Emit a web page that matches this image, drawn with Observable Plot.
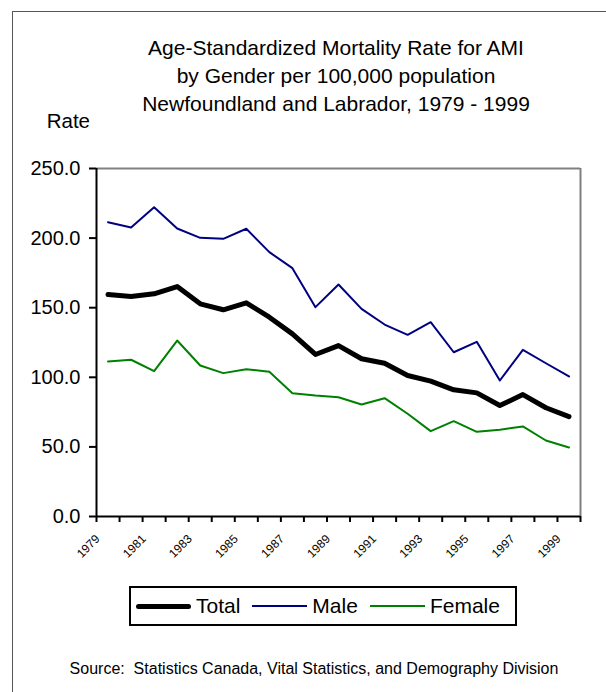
<!DOCTYPE html>
<html>
<head>
<meta charset="utf-8">
<script src="https://cdn.jsdelivr.net/npm/d3@7"></script>
<script src="https://cdn.jsdelivr.net/npm/@observablehq/plot@0.6"></script>
<style>
  body { margin: 0; background: #fff; }
  #wrap { position: relative; width: 606px; height: 692px; overflow: hidden;
          font-family: "Liberation Sans", Arial, sans-serif; color: #000; background: #fff; }
  #wrap svg { position: absolute; left: 0; top: 0; }
  .abs { position: absolute; white-space: pre; line-height: 1; }
  #border { position: absolute; left: 12px; top: 11px; right: -10px; bottom: -10px;
            border-left: 1.5px solid #555; border-top: 1.5px solid #555; }
  #title { position: absolute; left: 136px; width: 400px; top: 33.7px; text-align: center;
           font-size: 21px; line-height: 28px; }
  #legend { position: absolute; left: 129px; top: 586px; width: 388px; height: 40px; box-sizing: border-box;
            border: 2px solid #000; display: flex; align-items: center; padding-left: 5px; font-size: 21px; }
  .item { display: flex; align-items: center; margin-right: 12px; }
  .sw { display: inline-block; width: 55px; margin-right: 5px; }
</style>
</head>
<body>
<div id="wrap"></div>
<script>
// ---- data ----
const years = [1979,1980,1981,1982,1983,1984,1985,1986,1987,1988,1989,1990,1991,1992,1993,1994,1995,1996,1997,1998,1999];
const total  = [159.5,158.0,160.0,165.2,152.8,148.5,153.5,143.2,131.2,116.4,122.8,113.3,110.1,101.3,97.2,91.0,88.8,79.7,87.6,78.1,71.8];
const male   = [211.4,207.6,222.2,206.9,200.2,199.5,206.7,189.9,178.4,150.4,166.7,149.2,137.9,130.5,139.6,118.0,125.5,97.7,119.7,110.1,100.6];
const female = [111.4,112.6,104.4,126.4,108.5,103.0,105.8,104.0,88.6,86.9,85.7,80.5,85.0,73.8,61.3,68.5,60.8,62.3,64.7,54.6,49.6];
const xLabelYears = [1979,1981,1983,1985,1987,1989,1991,1993,1995,1997,1999];
const yTicks = [0,50,100,150,200,250];
const seriesNames = ["Total","Male","Female"];
const seriesColors = ["#000000","#000080","#008000"];
const seriesWidths = [5,2,2];
const titleLines = ["Age-Standardized Mortality Rate for AMI","by Gender per 100,000 population","Newfoundland and Labrador, 1979 - 1999"];
const yLabel = "Rate";
const sourceText = "Source:  Statistics Canada, Vital Statistics, and Demography Division";

const seriesValues = [total, male, female];
const rows = seriesNames.map((name, s) => years.map((yr, i) => ({year: yr, value: seriesValues[s][i], series: name})));
const bounds = d3.range(years[0] - 0.5, years[years.length - 1] + 1, 1);
const font = '"Liberation Sans", Arial, sans-serif';

const chart = Plot.plot({
  width: 606, height: 692,
  marginLeft: 96, marginRight: 26, marginTop: 168, marginBottom: 176,
  style: {fontFamily: font, background: "transparent", color: "#000"},
  x: {type: "linear", domain: [bounds[0], bounds[bounds.length - 1]], axis: null},
  y: {domain: [0, 250], axis: null},
  marks: [
    Plot.ruleY([250], {stroke: "#808080", strokeWidth: 2}),
    Plot.ruleX([bounds[bounds.length - 1]], {stroke: "#808080", strokeWidth: 2}),
    Plot.axisY({ticks: yTicks, tickFormat: d => d.toFixed(1), tickSize: 7, tickPadding: 9, fontSize: 20, strokeWidth: 2, label: null}),
    Plot.axisX({ticks: bounds, tickFormat: () => "", tickSize: 6, strokeWidth: 2, label: null}),
    Plot.text(xLabelYears, {x: d => d, frameAnchor: "bottom", text: d => String(d), rotate: -45,
      textAnchor: "end", lineAnchor: "bottom", dx: -7.5, dy: 23, fontSize: 12}),
    Plot.ruleX([bounds[0]], {stroke: "#000", strokeWidth: 2}),
    Plot.ruleY([0], {stroke: "#000", strokeWidth: 2}),
    Plot.line(rows[2], {x: "year", y: "value", stroke: seriesColors[2], strokeWidth: seriesWidths[2]}),
    Plot.line(rows[1], {x: "year", y: "value", stroke: seriesColors[1], strokeWidth: seriesWidths[1]}),
    Plot.line(rows[0], {x: "year", y: "value", stroke: seriesColors[0], strokeWidth: seriesWidths[0]})
  ]
});

const wrap = document.getElementById("wrap");
wrap.appendChild(chart);

const border = document.createElement("div");
border.id = "border";
wrap.appendChild(border);

const title = document.createElement("div");
title.id = "title";
titleLines.forEach(t => { const d = document.createElement("div"); d.textContent = t; title.appendChild(d); });
wrap.appendChild(title);

const rate = document.createElement("div");
rate.className = "abs";
rate.style.cssText = "left:46.7px; top:110.6px; font-size:20.5px;";
rate.textContent = yLabel;
wrap.appendChild(rate);

const legend = document.createElement("div");
legend.id = "legend";
seriesNames.forEach((name, s) => {
  const it = document.createElement("div");
  it.className = "item";
  const sw = document.createElement("span");
  sw.className = "sw";
  sw.style.height = seriesWidths[s] + "px";
  sw.style.background = seriesColors[s];
  if (s === 0) sw.style.borderRadius = "3px";
  const lb = document.createElement("span");
  lb.textContent = name;
  it.appendChild(sw); it.appendChild(lb);
  legend.appendChild(it);
});
wrap.appendChild(legend);

const src = document.createElement("div");
src.className = "abs";
src.style.cssText = "left:14px; width:600px; text-align:center; top:660.5px; font-size:16px;";
src.textContent = sourceText;
wrap.appendChild(src);
</script>
</body>
</html>
